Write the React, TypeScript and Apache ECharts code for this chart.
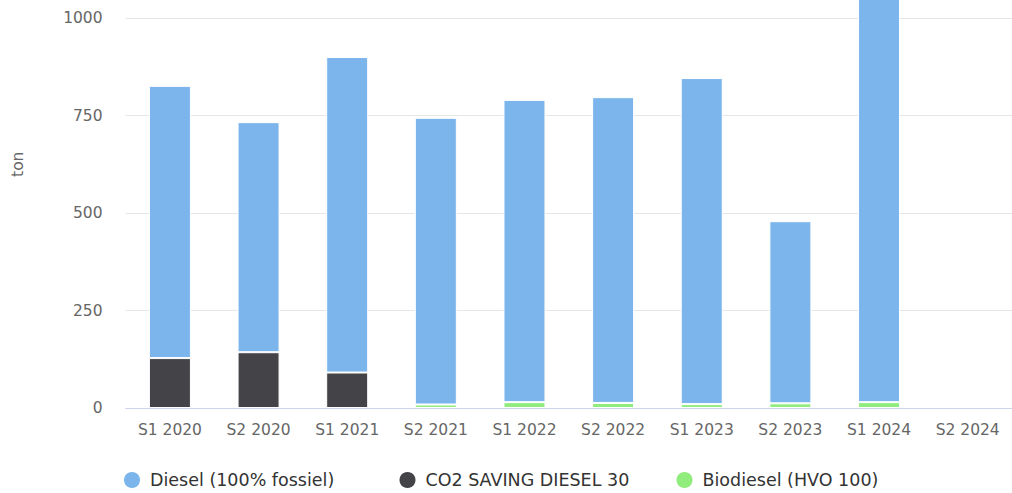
import React, { useEffect, useRef } from "react";
import * as echarts from "echarts";

const categories = ["S1 2020", "S2 2020", "S1 2021", "S2 2021", "S1 2022", "S2 2022", "S1 2023", "S2 2023", "S1 2024", "S2 2024"];
const dieselValues = [698, 590, 809, 735, 775, 784, 836, 467, 1085, 0];
const co2SavingValues = [128, 143, 91, 0, 0, 0, 0, 0, 0, 0];
const biodieselValues = [0, 0, 0, 9, 15, 13, 10, 12, 15, 0];
const yTicks = [0, 250, 500, 750, 1000, 1250];

const FONT = "DejaVu Sans";
// the chart is taller than the page and shifted upward so its top is cropped off
const SHIFT = 98;

const noZero = (arr: number[]) => arr.map((v) => (v === 0 ? "-" : v));

export default function App() {
  const ref = useRef<HTMLDivElement>(null);
  useEffect(() => {
    if (!ref.current) return;
    const chart = echarts.init(ref.current, undefined, { renderer: "svg" });
    const legendText = { color: "#333333", fontSize: 17.5, fontFamily: FONT, padding: [0, 0, 0, 4] };
    const mkLegend = (name: string, left: number) => ({
      data: [name],
      left,
      top: 470 + SHIFT,
      padding: 0,
      icon: "circle",
      itemWidth: 18,
      itemHeight: 18,
      textStyle: legendText,
      selectedMode: false,
    });
    const barStyle = (color: string) => ({ color, borderColor: "#ffffff", borderWidth: 1 });
    chart.setOption({
      animation: false,
      backgroundColor: "#ffffff",
      grid: { left: 125.6, right: -2.3, top: SHIFT - 79.5, bottom: 85, containLabel: false },
      legend: [
        mkLegend("Diesel (100% fossiel)", 122),
        mkLegend("CO2 SAVING DIESEL 30", 397.5),
        mkLegend("Biodiesel (HVO 100)", 674.5),
      ],
      xAxis: {
        type: "category",
        data: categories,
        axisLine: { lineStyle: { color: "#ccd6eb" } },
        axisTick: { show: false },
        axisLabel: { color: "#666666", fontSize: 15.5, fontFamily: FONT, margin: 14 },
      },
      yAxis: {
        type: "value",
        min: yTicks[0],
        max: yTicks[yTicks.length - 1],
        interval: 250,
        name: "ton",
        nameLocation: "middle",
        nameRotate: 90,
        nameGap: 100,
        nameTextStyle: { color: "#666666", fontSize: 15.5, fontFamily: FONT },
        axisLine: { show: false },
        axisTick: { show: false },
        splitLine: { lineStyle: { color: "#e6e6e6" } },
        axisLabel: {
          color: "#666666",
          fontSize: 15.5,
          fontFamily: FONT,
          margin: 23,
          showMaxLabel: false,
          formatter: (v: number) => String(v),
        },
      },
      series: [
        { name: "Biodiesel (HVO 100)", type: "bar", stack: "t", data: noZero(biodieselValues), barWidth: 42, itemStyle: barStyle("#90ed7d") },
        { name: "CO2 SAVING DIESEL 30", type: "bar", stack: "t", data: noZero(co2SavingValues), barWidth: 42, itemStyle: barStyle("#434348") },
        { name: "Diesel (100% fossiel)", type: "bar", stack: "t", data: noZero(dieselValues), barWidth: 42, itemStyle: barStyle("#7cb5ec") },
      ],
    });
    return () => chart.dispose();
  }, []);
  return <div ref={ref} style={{ width: 1012, height: 493 + SHIFT, position: "absolute", left: 0, top: -SHIFT }} />;
}
